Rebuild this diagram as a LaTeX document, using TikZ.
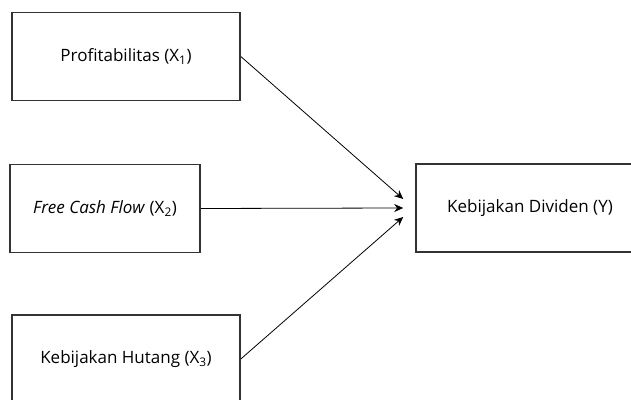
\documentclass[tikz,border=0pt]{standalone}
\usepackage{fontspec}
\setmainfont{Open Sans}
\usetikzlibrary{arrows.meta,positioning}

\begin{document}
\begin{tikzpicture}[x=1pt,y=1pt,->,>={Stealth[length=9pt,width=8pt]},line width=0.8pt,
                        varbox/.style={rectangle, draw=black!80, fill=white, line width=1.6pt, minimum width=228pt, minimum height=88pt, font=\fontsize{17}{20}\selectfont}]
      \useasboundingbox (0,0) rectangle (631,399);

      \node[varbox]                      (X1) at (126,342.5) {Profitabilitas (X\textsubscript{1})};
      \node[varbox, minimum width=190pt] (X2) at (105,190.5) {\textit{Free Cash Flow} (X\textsubscript{2})};
      \node[varbox]                      (X3) at (126,40)    {Kebijakan Hutang (X\textsubscript{3})};
      \node[varbox]                      (Y)  at (530,191)   {Kebijakan Dividen (Y)};
      \coordinate (T1) at ([xshift=-12pt,yshift=9pt]Y.west);
      \coordinate (T2) at ([xshift=-12pt]Y.west);
      \coordinate (T3) at ([xshift=-12pt,yshift=-9pt]Y.west);
      \path (X1.east) edge (T1)
            (X2.east) edge (T2)
            (X3.east) edge (T3);
\end{tikzpicture}
\end{document}
